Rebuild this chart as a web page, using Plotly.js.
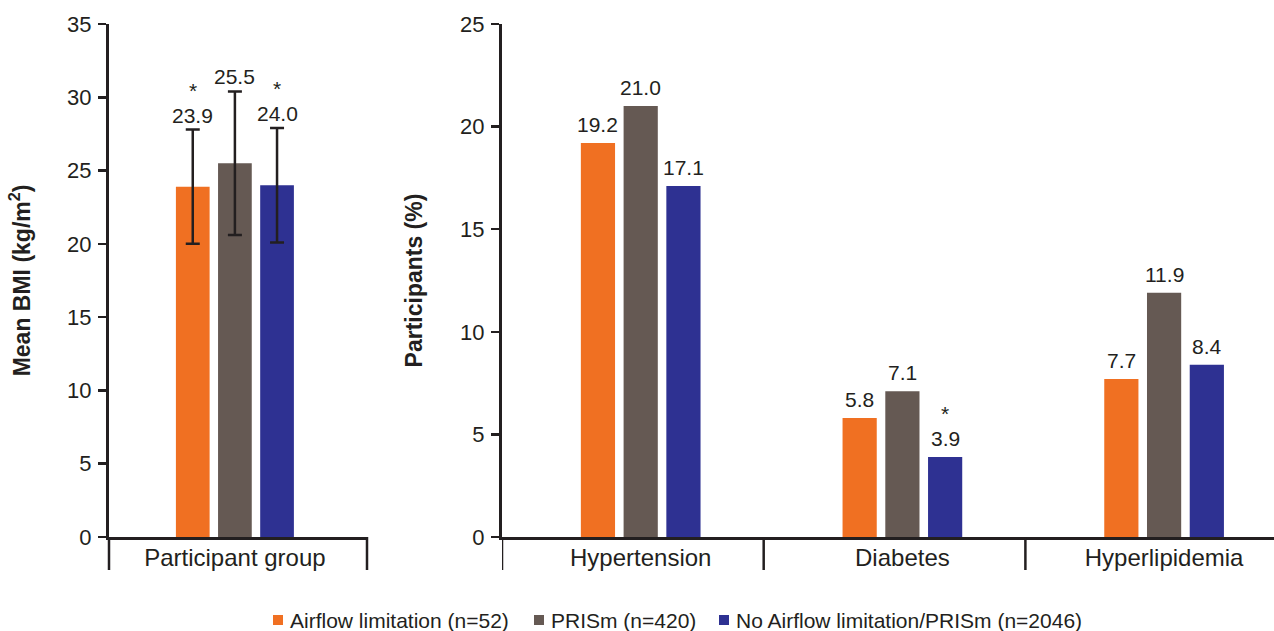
<!DOCTYPE html>
<html>
<head>
<meta charset="utf-8">
<script src="https://cdn.plot.ly/plotly-3.0.1.min.js"></script>
<style>html,body{margin:0;padding:0;background:#fff;}#chart{width:1274px;height:631px;}</style>
</head>
<body>
<div id="chart"></div>
<script>
// ---- data ----
const seriesNames = ['Airflow limitation (n=52)', 'PRISm (n=420)', 'No Airflow limitation/PRISm (n=2046)'];
const bmiCategory = ['Participant group'];
const bmiMean = [23.9, 25.5, 24.0];
const bmiSD = [3.9, 4.9, 3.9];
const bmiSig = ['*', '', '*'];
const conditions = ['Hypertension', 'Diabetes', 'Hyperlipidemia'];
const airflowPct = [19.2, 5.8, 7.7];
const prismPct = [21.0, 7.1, 11.9];
const noAirflowPct = [17.1, 3.9, 8.4];
const noAirflowSig = ['', '*', ''];
const leftYTicks = [0, 5, 10, 15, 20, 25, 30, 35];
const rightYTicks = [0, 5, 10, 15, 20, 25];

// ---- style ----
const colors = ['#F07022', '#655953', '#2E3192'];
const ink = '#231F20';
const font = 'Liberation Sans, Arial, Helvetica, sans-serif';
const W = 1274, H = 631, MT = 24, MB = 94;
const BARGAP = 0.51;
const slot = (1 - BARGAP) / 3;

const traces = [];
for (let k = 0; k < 3; k++) {
  traces.push({
    type: 'bar', x: bmiCategory, y: [bmiMean[k]], name: seriesNames[k],
    marker: {color: colors[k]}, xaxis: 'x', yaxis: 'y', showlegend: false,
    error_y: {type: 'data', array: [bmiSD[k]], visible: true, color: ink, thickness: 2.5, width: 7},
    hoverinfo: 'skip'
  });
}
const rightSeries = [airflowPct, prismPct, noAirflowPct];
for (let k = 0; k < 3; k++) {
  traces.push({
    type: 'bar', x: conditions, y: rightSeries[k], name: seriesNames[k],
    marker: {color: colors[k]}, xaxis: 'x2', yaxis: 'y2', showlegend: false,
    hoverinfo: 'skip'
  });
}

const annotations = [];
const lblFont = {family: font, size: 21, color: ink};
for (let k = 0; k < 3; k++) {
  const xx = (k - 1) * slot;
  const top = bmiMean[k] + bmiSD[k];
  annotations.push({xref: 'x', yref: 'y', x: xx, y: top, text: bmiMean[k].toFixed(1), showarrow: false,
    yanchor: 'bottom', yshift: 1, font: lblFont});
  if (bmiSig[k]) annotations.push({xref: 'x', yref: 'y', x: xx, y: top, text: bmiSig[k], showarrow: false,
    yanchor: 'bottom', yshift: 26, font: lblFont});
}
for (let k = 0; k < 3; k++) {
  for (let i = 0; i < conditions.length; i++) {
    const xx = i + (k - 1) * slot;
    annotations.push({xref: 'x2', yref: 'y2', x: xx, y: rightSeries[k][i], text: rightSeries[k][i].toFixed(1),
      showarrow: false, yanchor: 'bottom', yshift: 5, font: lblFont});
    if (k === 2 && noAirflowSig[i]) annotations.push({xref: 'x2', yref: 'y2', x: xx, y: rightSeries[k][i],
      text: noAirflowSig[i], showarrow: false, yanchor: 'bottom', yshift: 30, font: lblFont});
  }
}

const shapes = [];
const divLen = -33 / (H - MT - MB);
[0, 1].forEach(d => shapes.push({type: 'line', xref: 'x domain', yref: 'paper', x0: d, x1: d, y0: 0, y1: divLen,
  line: {color: ink, width: 2.5}}));
[-0.53, 0.47, 1.47].forEach(d => shapes.push({type: 'line', xref: 'x2', yref: 'paper', x0: d, x1: d, y0: 0, y1: divLen,
  line: {color: ink, width: 2.5}}));

// ---- legend (drawn as swatches + labels) ----
const legendY = 620;            // px from top
const legendSwatchX = [273, 534, 719]; // px from left
const swatch = 10;
const toPaperY = py => (H - MB - py) / (H - MT - MB);
for (let k = 0; k < 3; k++) {
  shapes.push({type: 'rect', xref: 'paper', yref: 'paper', layer: 'above',
    x0: legendSwatchX[k] / W, x1: (legendSwatchX[k] + swatch) / W,
    y0: toPaperY(legendY + swatch / 2), y1: toPaperY(legendY - swatch / 2),
    fillcolor: colors[k], line: {width: 0}});
  annotations.push({xref: 'paper', yref: 'paper', x: (legendSwatchX[k] + swatch + 5) / W, y: toPaperY(legendY),
    xanchor: 'left', yanchor: 'middle', text: seriesNames[k], showarrow: false,
    font: {family: font, size: 21, color: ink}});
}

const tickFont = {family: font, size: 22, color: ink};
const catFont = {family: font, size: 24, color: ink};
const titleFont = {family: font, size: 23, color: ink, weight: 'bold'};
const yCommon = {showgrid: false, zeroline: false, showline: true, linecolor: ink, linewidth: 3,
  ticks: 'outside', ticklen: 8, tickwidth: 2.5, tickcolor: ink, fixedrange: true, ticklabelstandoff: 2,
  automargin: true, tickfont: tickFont};
const xCommon = {showgrid: false, zeroline: false, showline: true, linecolor: ink, linewidth: 3,
  ticks: '', fixedrange: true, ticklabelstandoff: -3, tickfont: catFont};

const layout = {
  width: W, height: H,
  margin: {l: 0, r: 0, t: MT, b: MB},
  paper_bgcolor: '#fff', plot_bgcolor: '#fff',
  barmode: 'group', bargap: BARGAP, bargroupgap: 0.2,
  xaxis: Object.assign({}, xCommon, {domain: [109 / W, 367 / W], range: [-0.488, 0.512], anchor: 'y'}),
  yaxis: Object.assign({}, yCommon, {domain: [0, 1], range: [0, 35], tickvals: leftYTicks, anchor: 'x',
    title: {text: 'Mean BMI (kg/m<sup>2</sup>)', font: titleFont, standoff: 31}}),
  xaxis2: Object.assign({}, xCommon, {domain: [502 / W, 1], range: [-0.53, 2.42], anchor: 'y2'}),
  yaxis2: Object.assign({}, yCommon, {domain: [0, 1], range: [0, 25], tickvals: rightYTicks, anchor: 'x2',
    title: {text: 'Participants (%)', font: titleFont, standoff: 32}}),
  showlegend: false,
  annotations: annotations,
  shapes: shapes
};

Plotly.newPlot('chart', traces, layout, {displayModeBar: false, staticPlot: true});
</script>
</body>
</html>
